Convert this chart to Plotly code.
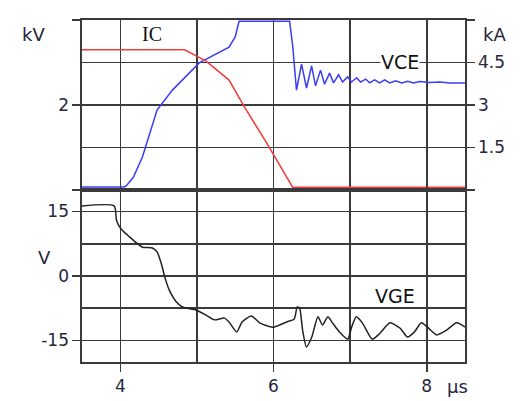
import plotly.graph_objects as go

# ---- data ----
vce_t = [3.5, 4.05, 4.08, 4.17, 4.29, 4.40, 4.48, 4.68, 5.03, 5.42, 5.50, 5.55, 6.21, 6.25, 6.30,
         6.366, 6.431, 6.497, 6.549, 6.614, 6.667, 6.732, 6.784, 6.850, 6.902,
         6.967, 7.020, 7.085, 7.137, 7.203, 7.255, 7.320, 7.386, 7.451, 7.516,
         7.595, 7.673, 7.752, 7.830, 7.908, 8.04, 8.17, 8.30, 8.50]
vce_kv = [0.07, 0.07, 0.10, 0.30, 0.78, 1.45, 1.88, 2.35, 2.99, 3.36, 3.60, 3.97, 3.97, 3.40, 2.35,
          2.96, 2.40, 2.92, 2.45, 2.82, 2.49, 2.75, 2.52, 2.71, 2.54,
          2.66, 2.54, 2.64, 2.54, 2.61, 2.52, 2.59, 2.52, 2.59, 2.52,
          2.57, 2.52, 2.56, 2.52, 2.55, 2.53, 2.54, 2.52, 2.52]

ic_t = [3.5, 4.84, 5.12, 5.42, 5.62, 5.91, 6.25, 8.5]
ic_ka = [4.95, 4.95, 4.55, 3.88, 2.93, 1.66, 0.1, 0.1]

vge_t = [3.5, 3.92, 3.95, 3.99, 4.05, 4.12, 4.21, 4.29, 4.42, 4.48, 4.54,
         4.58, 4.64, 4.73, 4.81, 4.99, 5.12, 5.23, 5.36, 5.42, 5.52, 5.59,
         5.71, 5.82, 5.99, 6.17, 6.27, 6.31, 6.34, 6.38, 6.43, 6.50, 6.58,
         6.64, 6.71, 6.77, 6.86, 6.97, 7.02, 7.08, 7.16, 7.29, 7.39, 7.52,
         7.65, 7.75, 7.84, 7.93, 8.01, 8.13, 8.26, 8.39, 8.50]
vge_v = [16.3, 16.3, 13.0, 11.4, 10.2, 9.1, 7.7, 6.7, 6.5, 5.6, 2.6,
         -0.2, -3.3, -6.0, -7.2, -7.9, -9.1, -10.2, -9.8, -10.7, -13.0, -10.7,
         -9.3, -10.9, -11.9, -10.7, -10.0, -7.2, -7.4, -12.6, -16.5, -14.2, -9.5,
         -11.4, -9.5, -10.9, -13.0, -14.7, -11.9, -9.5, -10.9, -14.7, -13.3, -10.9,
         -12.1, -14.2, -13.0, -10.9, -11.9, -13.7, -12.6, -10.9, -11.9]

x_ticks = [4, 6, 8]
kv_ticks = [0, 2, 4]
kv_text = ["", "2", ""]
ka_ticks = [0, 1.5, 3, 4.5, 6]
ka_text = ["", "1.5", "3", "4.5", ""]
v_ticks = [-15, 0, 15]
v_text = ["-15", "0", "15"]

GRID = "#3a3a3a"
TXT = "#26263c"
FONT = "DejaVu Sans"

fig = go.Figure()
fig.add_trace(go.Scatter(x=ic_t, y=ic_ka, mode="lines", xaxis="x", yaxis="y2",
                         line=dict(color="#f23c3c", width=1.5), showlegend=False))
fig.add_trace(go.Scatter(x=vce_t, y=vce_kv, mode="lines", xaxis="x", yaxis="y",
                         line=dict(color="#3c3cf2", width=1.5), showlegend=False))
fig.add_trace(go.Scatter(x=vge_t, y=vge_v, mode="lines", xaxis="x", yaxis="y3",
                         line=dict(color="#222222", width=1.5, shape="spline",
                                   smoothing=0.6), showlegend=False))

common_grid = dict(gridcolor=GRID, gridwidth=1.6, zeroline=False,
                   showline=True, linecolor=GRID, linewidth=1.6,
                   ticks="outside", ticklen=8, tickcolor=GRID, tickwidth=1.6,
                   automargin=False, layer="below traces",
                   tickfont=dict(family=FONT, size=17, color=TXT))

fig.update_layout(
    width=527, height=401,
    margin=dict(l=82, r=62, t=20, b=39, autoexpand=False),
    paper_bgcolor="white", plot_bgcolor="white",
    hovermode=False,
    xaxis=dict(domain=[0, 1], anchor="y3", range=[3.5, 8.5],
               tickvals=x_ticks, showgrid=True, mirror="all",
               minor=dict(dtick=1, tick0=0, showgrid=True, gridcolor=GRID,
                          gridwidth=1.6, ticks=""),
               **common_grid),
    yaxis=dict(domain=[0.503, 1], anchor="x", range=[0, 4],
               tickvals=kv_ticks, ticktext=kv_text, showgrid=True, mirror=True,
               minor=dict(dtick=1, tick0=0, showgrid=True, gridcolor=GRID,
                          gridwidth=1.6, ticks=""),
               **common_grid),
    yaxis2=dict(overlaying="y", side="right", anchor="x", range=[0, 6],
                tickvals=ka_ticks, ticktext=ka_text, showgrid=False,
                **common_grid),
    yaxis3=dict(domain=[0, 0.503], anchor="x", range=[-20, 20],
                tickvals=v_ticks, ticktext=v_text, showgrid=True, mirror=True,
                minor=dict(dtick=7.5, tick0=0, showgrid=True, gridcolor=GRID,
                           gridwidth=1.6, ticks=""),
                **common_grid),
)

ann_font = dict(family=FONT, size=18, color=TXT)
fig.add_annotation(text="kV", xref="paper", yref="paper", x=-0.162, y=0.994,
                   showarrow=False, font=ann_font)
fig.add_annotation(text="kA", xref="paper", yref="paper", x=1.112, y=0.994,
                   showarrow=False, font=ann_font)
fig.add_annotation(text="V", xref="paper", yref="paper", x=-0.12, y=0.269,
                   showarrow=False, font=ann_font)
fig.add_annotation(text="µs", xref="paper", yref="paper", x=1.012, y=-0.108,
                   showarrow=False, font=ann_font)
fig.add_annotation(text="IC", xref="x", yref="y", x=4.41, y=3.67,
                   showarrow=False,
                   font=dict(family="Liberation Serif", size=20, color="#111111"))
fig.add_annotation(text="VCE", xref="x", yref="y", x=7.65, y=3.0,
                   showarrow=False, bgcolor="white", borderpad=0,
                   font=dict(family=FONT, size=19, color="#111111"))
fig.add_annotation(text="VGE", xref="x", yref="y3", x=7.58, y=-4.6,
                   showarrow=False,
                   font=dict(family=FONT, size=19, color="#111111"))

fig.write_html("out.html",
               config={"displayModeBar": False, "staticPlot": True},
               post_script="document.body.style.margin='0px';")
